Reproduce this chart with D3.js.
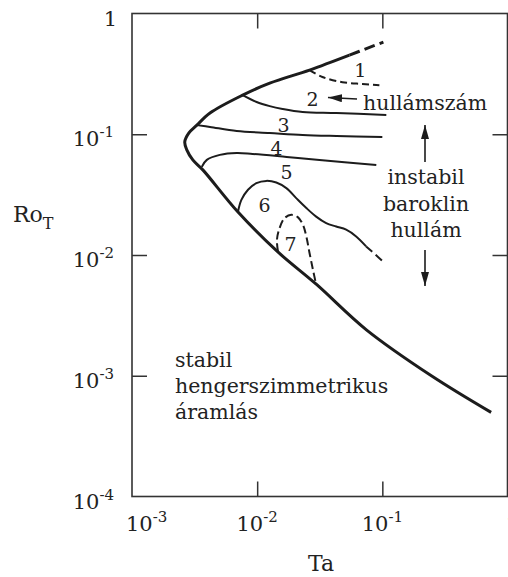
<!DOCTYPE html>
<html>
<head>
<meta charset="utf-8">
<script src="https://cdn.jsdelivr.net/npm/d3@7"></script>
<style>
  html, body { margin: 0; padding: 0; background: #fff; }
  svg text { font-family: "DejaVu Serif", "Liberation Serif", serif; fill: #222; }
</style>
</head>
<body>
<svg id="chart" width="508" height="577"></svg>
<script>
// Stability boundary, solid part: lower branch -> apex -> upper branch
const boundaryTa = [0.74, 0.25, 0.0746, 0.0298, 0.01456, 0.0070, 0.00368, 0.00306, 0.00274, 0.00264, 0.00285, 0.0033, 0.0042, 0.00766, 0.0126, 0.0262, 0.0546];
const boundaryRo = [4.97e-4, 9.9e-4, 2.4e-3, 5.7e-3, 0.01065, 0.0228, 0.0507, 0.0613, 0.0742, 0.0864, 0.1025, 0.119, 0.150, 0.211, 0.265, 0.340, 0.452];
// Stability boundary, dashed continuation
const boundaryDashTa = [0.0546, 0.0746, 0.102];
const boundaryDashRo = [0.452, 0.512, 0.579];

// Wavenumber transition curves
const wave1Ta = [0.0262, 0.0332, 0.048, 0.0693, 0.0947];
const wave1Ro = [0.340, 0.298, 0.270, 0.261, 0.255];
const wave2Ta = [0.00766, 0.0099, 0.0126, 0.01596, 0.0231, 0.0430, 0.1076];
const wave2Ro = [0.211, 0.185, 0.171, 0.162, 0.153, 0.150, 0.1445];
const wave3Ta = [0.0033, 0.0042, 0.00687, 0.0126, 0.0231, 0.043, 0.1];
const wave3Ro = [0.119, 0.115, 0.1065, 0.1025, 0.0987, 0.0968, 0.095];
const wave4Ta = [0.00361, 0.00396, 0.00503, 0.00687, 0.0092, 0.0172, 0.0315, 0.0895];
const wave4Ro = [0.0537, 0.0613, 0.0675, 0.070, 0.0687, 0.0649, 0.0613, 0.0557];
const wave5Ta = [0.00703, 0.00748, 0.00845, 0.00986, 0.01184, 0.01422, 0.0171, 0.0205, 0.0247, 0.0296, 0.0356, 0.0428, 0.0514, 0.0618, 0.0742];
const wave5Ro = [0.0229, 0.0286, 0.0347, 0.0394, 0.0411, 0.0398, 0.0358, 0.0296, 0.0245, 0.0208, 0.01837, 0.0172, 0.0162, 0.01425, 0.01178];
const wave5DashTa = [0.0742, 0.0863, 0.1037];
const wave5DashRo = [0.01178, 0.01026, 0.00863];
const wave7Ta = [0.01466, 0.01439, 0.0151, 0.01655, 0.01874, 0.0211, 0.0232, 0.0247, 0.0262, 0.0279, 0.0296];
const wave7Ro = [0.01071, 0.01337, 0.0167, 0.0202, 0.0215, 0.0206, 0.0178, 0.01425, 0.0104, 0.00756, 0.00569];

// Axis ticks (decades)
const xTickExps = [-3, -2, -1, 0];
const yTickExps = [0, -1, -2, -3, -4];

const zip = (a, b) => a.map((v, i) => [v, b[i]]);

const svg = d3.select("#chart");
const x = d3.scaleLog().domain([1e-3, 1]).range([132, 507.5]);
const y = d3.scaleLog().domain([1e-4, 1]).range([496.5, 13.5]);

const ink = "#1c1c1c";
const frameInk = "#333";

// inward ticks on all four sides
const tickStyle = g => {
  g.select(".domain").remove();
  g.selectAll(".tick line").attr("stroke", frameInk).attr("stroke-width", 1.5);
  g.selectAll(".tick text").remove();
};
svg.append("g").attr("transform", `translate(0,${y(1e-4)})`)
  .call(d3.axisBottom(x).tickValues([1e-2, 1e-1]).tickSizeInner(-15).tickSizeOuter(0)).call(tickStyle);
svg.append("g").attr("transform", `translate(0,${y(1)})`)
  .call(d3.axisTop(x).tickValues([1e-2, 1e-1]).tickSizeInner(-15).tickSizeOuter(0)).call(tickStyle);
svg.append("g").attr("transform", `translate(${x(1e-3)},0)`)
  .call(d3.axisLeft(y).tickValues([1e-1, 1e-2, 1e-3]).tickSizeInner(-15).tickSizeOuter(0)).call(tickStyle);
svg.append("g").attr("transform", `translate(${x(1)},0)`)
  .call(d3.axisRight(y).tickValues([1e-1, 1e-2, 1e-3]).tickSizeInner(-15).tickSizeOuter(0)).call(tickStyle);

// frame
svg.append("rect")
  .attr("x", x(1e-3)).attr("y", y(1))
  .attr("width", x(1) - x(1e-3)).attr("height", y(1e-4) - y(1))
  .attr("fill", "none").attr("stroke", frameInk).attr("stroke-width", 1.6);

// power-of-ten label
function powLabel(sel, exp) {
  if (exp === 0) { sel.text("1"); return; }
  sel.append("tspan").text("10");
  sel.append("tspan").attr("dy", -9).attr("font-size", 15).text(String(exp));
}

xTickExps.forEach(e => {
  const t = svg.append("text").attr("y", 531).attr("font-size", 21);
  if (e === -3) t.attr("x", x(1e-3) - 6).attr("text-anchor", "start");
  else t.attr("x", x(Math.pow(10, e)) + (e === 0 ? 5 : 0)).attr("text-anchor", "middle");
  powLabel(t, e);
});
yTickExps.forEach(e => {
  const t = svg.append("text").attr("y", y(Math.pow(10, e)) + 12).attr("font-size", 21)
    .attr("x", e === 0 ? 117 : 114).attr("text-anchor", "end");
  powLabel(t, e);
});

// axis titles
svg.append("text").attr("x", 321).attr("y", 571).attr("font-size", 22).attr("text-anchor", "middle").text("Ta");
const ro = svg.append("text").attr("x", 13).attr("y", 222).attr("font-size", 22);
ro.append("tspan").text("Ro");
ro.append("tspan").attr("dy", 7).attr("font-size", 16).text("T");

// curves
const line = d3.line().x(d => x(d[0])).y(d => y(d[1])).curve(d3.curveCatmullRom.alpha(0.5));
const plot = svg.append("g").attr("fill", "none").attr("stroke", ink).attr("stroke-linecap", "butt");

plot.append("path").attr("d", line(zip(boundaryTa, boundaryRo))).attr("stroke-width", 3);
plot.append("path").attr("d", line(zip(boundaryDashTa, boundaryDashRo))).attr("stroke-width", 3).attr("stroke-dasharray", "11,5");

plot.append("path").attr("d", line(zip(wave1Ta, wave1Ro))).attr("stroke-width", 2).attr("stroke-dasharray", "7,4");
plot.append("path").attr("d", line(zip(wave2Ta, wave2Ro))).attr("stroke-width", 2);
plot.append("path").attr("d", line(zip(wave3Ta, wave3Ro))).attr("stroke-width", 2);
plot.append("path").attr("d", line(zip(wave4Ta, wave4Ro))).attr("stroke-width", 2);
plot.append("path").attr("d", line(zip(wave5Ta, wave5Ro))).attr("stroke-width", 2);
plot.append("path").attr("d", line(zip(wave5DashTa, wave5DashRo))).attr("stroke-width", 2).attr("stroke-dasharray", "8,5");
plot.append("path").attr("d", line(zip(wave7Ta, wave7Ro))).attr("stroke-width", 2).attr("stroke-dasharray", "8,4");

// wavenumber labels
const waveLabels = [
  ["1", 0.0668, 0.340], ["2", 0.0277, 0.196], ["3", 0.01626, 0.119], ["4", 0.01429, 0.077],
  ["5", 0.01718, 0.0488], ["6", 0.01148, 0.0260], ["7", 0.01849, 0.0124]
];
svg.selectAll("text.wave").data(waveLabels).join("text").attr("class", "wave")
  .attr("x", d => x(d[1])).attr("y", d => y(d[2]) + 7)
  .attr("text-anchor", "middle").attr("font-size", 19).text(d => d[0]);

// annotations
svg.append("defs").append("marker").attr("id", "head")
  .attr("viewBox", "0 0 14 8").attr("refX", 14).attr("refY", 4)
  .attr("markerWidth", 14).attr("markerHeight", 8).attr("markerUnits", "userSpaceOnUse")
  .attr("orient", "auto")
  .append("path").attr("d", "M0,0 L14,4 L0,8 Z").attr("fill", ink);

const arrows = svg.append("g").attr("stroke", ink).attr("stroke-width", 1.6);
arrows.append("line").attr("x1", 357).attr("y1", 99).attr("x2", 328).attr("y2", 97.5).attr("marker-end", "url(#head)");
arrows.append("line").attr("x1", 425).attr("y1", 162).attr("x2", 425).attr("y2", 125).attr("marker-end", "url(#head)");
arrows.append("line").attr("x1", 425).attr("y1", 250).attr("x2", 425).attr("y2", 286).attr("marker-end", "url(#head)");

svg.append("text").attr("x", 363).attr("y", 110).attr("font-size", 20.5).text("hullámszám");

const unstable = ["instabil", "baroklin", "hullám"];
unstable.forEach((s, i) => svg.append("text").attr("x", 426).attr("y", 184 + i * 26.5)
  .attr("font-size", 20.5).attr("text-anchor", "middle").text(s));

const stable = ["stabil", "hengerszimmetrikus", "áramlás"];
stable.forEach((s, i) => svg.append("text").attr("x", 175).attr("y", 367 + i * 26)
  .attr("font-size", 20.5).text(s));
</script>
</body>
</html>
